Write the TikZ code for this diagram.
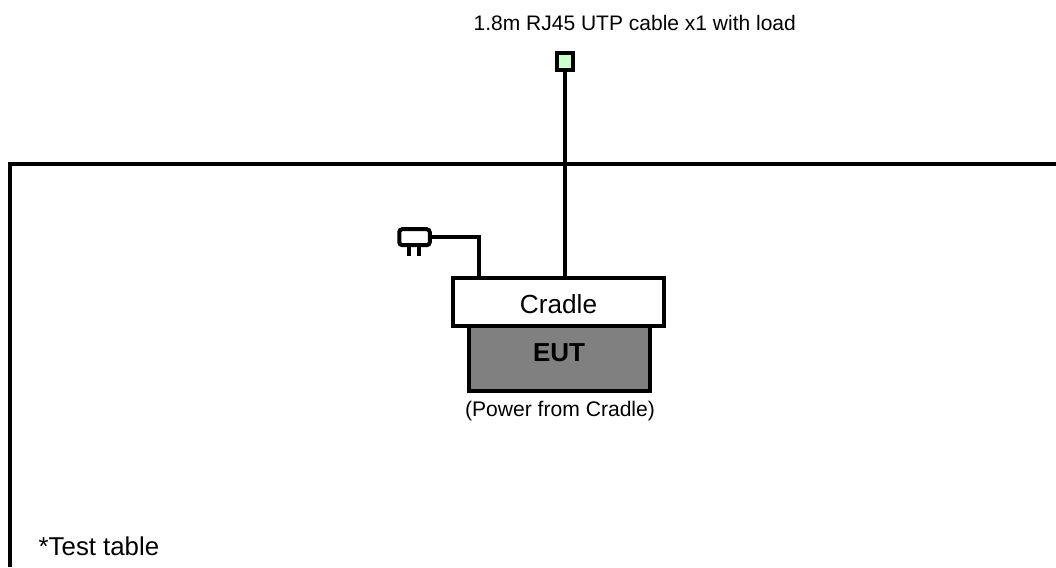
\documentclass[tikz,border=0pt]{standalone}
\usepackage{fontspec}
\setmainfont{Liberation Sans}
\usetikzlibrary{calc}

\tikzset{
    box/.style={draw, line width=4pt, rectangle, inner sep=0pt},
    wire/.style={draw, line width=4pt},
    caption/.style={inner sep=0pt, anchor=base}
}

\begin{document}
\begin{tikzpicture}[x=1pt,y=-1pt]
    \useasboundingbox (0,0) rectangle (1056,567);

    % draw test table
    \draw[wire] (9.7,567) -- (9.7,163.5) -- (1056,163.5);
    \node[caption, anchor=base west] (tablelabel) at (38.5,555.3) {\fontsize{25.8}{30}\selectfont *Test table};

    % draw EUT and cradle
    \node[box, fill=black!50, minimum width=181pt, minimum height=70pt] (eut) at (559.5,356) {};
    \node[box, fill=white, minimum width=211pt, minimum height=47.5pt] (cradle) at (558.5,301.75) {};
    \node[caption] (cradlelabel) at (558.5,313.3) {\fontsize{26.2}{30}\selectfont Cradle};
    \node[caption] (eutlabel) at (559,361) {\fontsize{26}{30}\selectfont\bfseries EUT};
    \node[caption] (powerlabel) at (560,416) {\fontsize{21.1}{25}\selectfont (Power from Cradle)};

    % draw cable with load
    \node[box, fill=green!20, minimum width=15.5pt, minimum height=17.5pt] (load) at (565,61.75) {};
    \node[caption] (loadlabel) at (634.8,31) {\fontsize{21}{25}\selectfont 1.8m RJ45 UTP cable x1 with load};
    \draw[wire] (load.south) -- (load.south |- cradle.north);

    % draw power plug
    \node[box, rounded corners=3pt, fill=white, minimum width=30.5pt, minimum height=16pt] (plug) at (414.5,237.2) {};
    \draw[wire] (plug.east) -| (cradle.north -| 479,0);
    \foreach \x in {-5.5,4.5}
    \draw[wire] ($(plug.south)+(\x pt,0)$) -- ++(0,8.5);
\end{tikzpicture}
\end{document}
